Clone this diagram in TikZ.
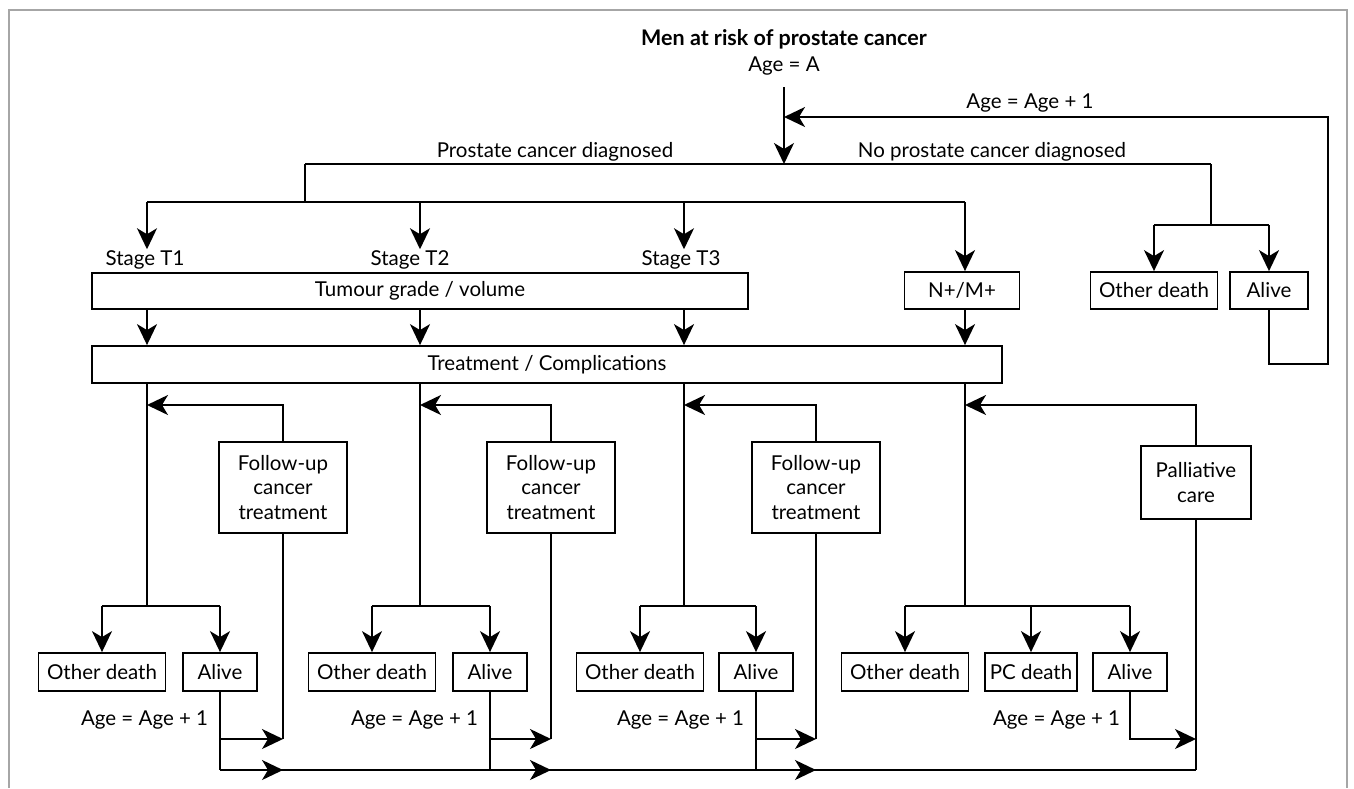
\documentclass[tikz,border=0pt]{standalone}
\usepackage{fontspec}
\setmainfont{Lato}
\usetikzlibrary{arrows.meta, positioning, calc}

\begin{document}
\begin{tikzpicture}[x=1pt, y=-1pt, line width=1.8pt,
		>={Stealth[length=21pt, width=20pt, inset=6pt]},
		every node/.style={font=\fontsize{20.5}{24.5}\selectfont, inner sep=0pt},
		box/.style={draw, align=center, minimum height=38pt},
		deathbox/.style={box, minimum width=127pt},
		alivebox/.style={box, minimum width=74pt},
		fubox/.style={box, minimum width=128pt, minimum height=91pt},
		lbl/.style={anchor=base}]
	\useasboundingbox (0,0) rectangle (1354,788);
	\draw [gray!70, line width=2pt] (9,788) -- (9,10) -- (1347,10) -- (1347,788);

	% entry
	\node [lbl, font=\fontsize{21.5}{25}\selectfont\bfseries] (title) at (784,45) {Men at risk of prostate cancer};
	\node [lbl] (agea) at (784,71) {Age = A};
	\coordinate (entry) at (784,87);
	\coordinate (split) at (784,164);
	\coordinate (pcleft) at (305,164);
	\coordinate (npc) at (1211,164);
	\draw [->] (entry) -- (split);
	\draw (pcleft) -- (npc);
	\node [lbl] (pctext) at (555,157) {Prostate cancer diagnosed};
	\node [lbl] (npctext) at (992,157) {No prostate cancer diagnosed};

	% stages
	\foreach \n/\x in {1/147, 2/420, 3/684, 4/965}
		\coordinate (c\n) at (\x,202);
	\draw (pcleft) -- (pcleft |- c1);
	\draw (c1) -- (c4);
	\node [lbl] (st1) at (145,265) {Stage T1};
	\node [lbl] (st2) at (410,265) {Stage T2};
	\node [lbl] (st3) at (681,265) {Stage T3};
	\foreach \n in {1,2,3}
		\draw [->] (c\n) -- (c\n |- st\n.north);
	\node [box, minimum width=656pt, minimum height=36pt] (tumour) at (420,291) {Tumour grade / volume};
	\node [box, minimum width=115pt, minimum height=37pt] (nm) at (962,290.5) {N+/M+};
	\draw [->] (c4) -- (c4 |- nm.north);

	% no cancer diagnosed
	\node [deathbox, minimum height=37pt] (od0) at (1154,290.5) {Other death};
	\node [alivebox, minimum width=78pt, minimum height=37pt] (al0) at (1269,290.5) {Alive};
	\coordinate (nbr) at (1211,225);
	\draw (npc) -- (nbr);
	\draw (od0.north |- nbr) -- (al0.north |- nbr);
	\draw [->] (od0.north |- nbr) -- (od0.north);
	\draw [->] (al0.north |- nbr) -- (al0.north);
	\coordinate (loop) at (1328,364);
	\coordinate (back) at (784,117);
	\draw [->] (al0.south) |- (loop) |- (back);
	\node [lbl] (agetop) at (1030,108) {Age = Age + 1};

	% treatment
	\node [box, minimum width=910pt, minimum height=37pt] (treat) at (547,364.5) {Treatment / Complications};
	\foreach \n in {1,2,3}
		\draw [->] (tumour.south -| c\n) -- (treat.north -| c\n);
	\draw [->] (nm.south -| c4) -- (treat.north -| c4);

	% stage groups
	\foreach \g/\fx/\ox/\ax in {1/283/102/220, 2/551/372/490, 3/816/640/756} {
		\node [fubox] (fu\g) at (\fx,487.5) {Follow-up\\cancer\\treatment};
		\node [deathbox] (od\g) at (\ox,672) {Other death};
		\node [alivebox] (al\g) at (\ax,672) {Alive};
		\node [lbl, anchor=base east] (age\g) at (\ax-11,725) {Age = Age + 1};
		\draw (c\g |- treat.south) -- (c\g |- 0,606);
		\draw (od\g.north |- 0,606) -- (al\g.north |- 0,606);
		\draw [->] (od\g.north |- 0,606) -- (od\g.north);
		\draw [->] (al\g.north |- 0,606) -- (al\g.north);
		\draw [->] (fu\g.north) |- (c\g |- 0,405);
		\draw (fu\g.south) -- (fu\g.south |- 0,739);
		\draw [->] (al\g.south) |- (fu\g.south |- 0,739);
		\draw (al\g.south) -- (al\g.south |- 0,770);
	}

	% metastatic group
	\node [box, minimum width=110pt, minimum height=73pt] (pal) at (1196,482.5) {Palliative\\care};
	\node [deathbox] (od4) at (905,672) {Other death};
	\node [box, minimum width=92pt] (pcd) at (1031,672) {PC death};
	\node [alivebox] (al4) at (1130,672) {Alive};
	\node [lbl, anchor=base east] (age4) at (1121,725) {Age = Age + 1};
	\draw (c4 |- treat.south) -- (c4 |- 0,606);
	\draw (od4.north |- 0,606) -- (al4.north |- 0,606);
	\foreach \b in {od4, pcd, al4}
		\draw [->] (\b.north |- 0,606) -- (\b.north);
	\draw [->] (pal.north) |- (c4 |- 0,405);
	\coordinate (low) at (pal.south |- 0,770);
	\draw (pal.south) -- (low);
	\draw [->] (al4.south) |- (pal.south |- 0,739);

	% next year
	\draw (al1.south |- low) -- (low);
	\foreach \g in {1,2,3}
		\draw [->] ($(fu\g.south |- low) + (-30,0)$) -- (fu\g.south |- low);
\end{tikzpicture}
\end{document}
